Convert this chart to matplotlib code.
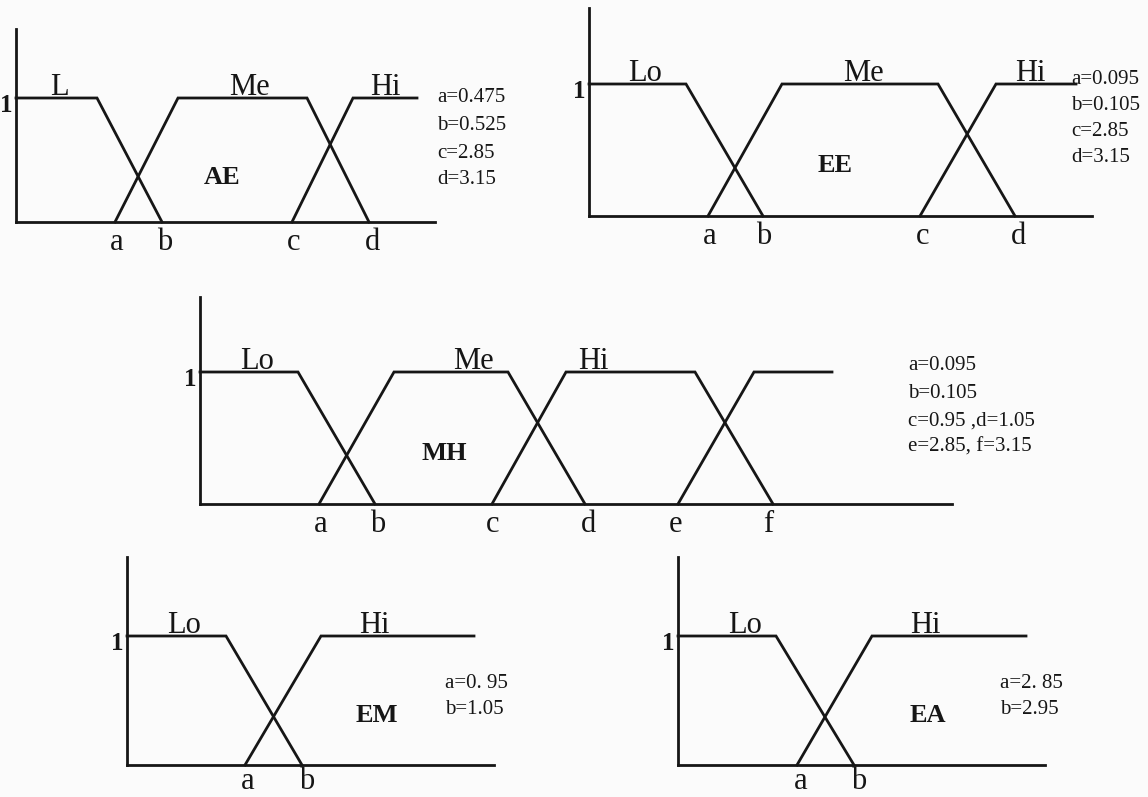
import matplotlib
matplotlib.use("Agg")
import matplotlib.pyplot as plt

plt.rcParams['font.family'] = ['Liberation Serif', 'DejaVu Serif']

# ---------------- data (schematic breakpoint positions, membership grades) ----------------
ae_sets = ['L', 'Me', 'Hi']
ae_x = [[0, 81, 146], [99, 162, 291, 353], [276, 337, 401]]
ae_mu = [[1, 1, 0], [0, 1, 1, 0], [0, 1, 1]]
ae_set_label_x = [43, 233, 369]
ae_ticks = ['a', 'b', 'c', 'd']
ae_tick_x = [101, 149, 278, 356]
ae_params = ['a=0.475', 'b=0.525', 'c=2.85', 'd=3.15']

ee_sets = ['Lo', 'Me', 'Hi']
ee_x = [[0, 97, 174], [119, 193, 349, 426], [331, 407, 487]]
ee_mu = [[1, 1, 0], [0, 1, 1, 0], [0, 1, 1]]
ee_set_label_x = [56, 274, 441]
ee_ticks = ['a', 'b', 'c', 'd']
ee_tick_x = [121, 175, 334, 429]
ee_params = ['a=0.095', 'b=0.105', 'c=2.85', 'd=3.15']

mh_sets = ['Lo', 'Me', 'Hi', '']
mh_x = [[0, 98, 175], [119, 194, 308, 385], [292, 366, 495, 573], [478, 554, 632]]
mh_mu = [[1, 1, 0], [0, 1, 1, 0], [0, 1, 1, 0], [0, 1, 1]]
mh_set_label_x = [57, 273, 393, 0]
mh_ticks = ['a', 'b', 'c', 'd', 'e', 'f']
mh_tick_x = [121, 178, 293, 389, 475, 568]
mh_params = ['a=0.095', 'b=0.105', 'c=0.95 ,d=1.05', 'e=2.85, f=3.15']

em_sets = ['Lo', 'Hi']
em_x = [[0, 99, 175], [118, 194, 347]]
em_mu = [[1, 1, 0], [0, 1, 1]]
em_set_label_x = [57, 247]
em_ticks = ['a', 'b']
em_tick_x = [121, 180]
em_params = ['a=0. 95', 'b=1.05']

ea_sets = ['Lo', 'Hi']
ea_x = [[0, 98, 176], [119, 194, 348]]
ea_mu = [[1, 1, 0], [0, 1, 1]]
ea_set_label_x = [67, 247]
ea_ticks = ['a', 'b']
ea_tick_x = [123, 181]
ea_params = ['a=2. 85', 'b=2.95']

panel_names = ['AE', 'EE', 'MH', 'EM', 'EA']

# ---------------- layout (pixel geometry of each panel) ----------------
W, H, DPI = 1148, 797, 100
layout = {
    'AE': dict(x0=16, yb=222, ytop=29, xr=435, ylev=98, tick_off=28, name_xy=(222, 178), par_x=437, par_y=[98, 126, 153, 180]),
    'EE': dict(x0=589, yb=216, ytop=8, xr=1092, ylev=84, tick_off=28, name_xy=(835, 166), par_x=1071, par_y=[79, 105, 131, 158]),
    'MH': dict(x0=200, yb=504, ytop=297, xr=952, ylev=372, tick_off=28, name_xy=(444, 453), par_x=908, par_y=[366, 393, 421, 447]),
    'EM': dict(x0=127, yb=765, ytop=557, xr=494, ylev=636, tick_off=24, name_xy=(377, 715), par_x=445, par_y=[683, 710]),
    'EA': dict(x0=678, yb=765, ytop=557, xr=1045, ylev=636, tick_off=24, name_xy=(928, 715), par_x=1000, par_y=[683, 710]),
}
data = {
    'AE': (ae_sets, ae_x, ae_mu, ae_set_label_x, ae_ticks, ae_tick_x, ae_params),
    'EE': (ee_sets, ee_x, ee_mu, ee_set_label_x, ee_ticks, ee_tick_x, ee_params),
    'MH': (mh_sets, mh_x, mh_mu, mh_set_label_x, mh_ticks, mh_tick_x, mh_params),
    'EM': (em_sets, em_x, em_mu, em_set_label_x, em_ticks, em_tick_x, em_params),
    'EA': (ea_sets, ea_x, ea_mu, ea_set_label_x, ea_ticks, ea_tick_x, ea_params),
}

INK = '#161616'
LW = 2.0
fig = plt.figure(figsize=(W / DPI, H / DPI), dpi=DPI)
fig.patch.set_facecolor('#fbfbfb')

for name in panel_names:
    L = layout[name]
    sets, xs, mus, slx, ticks, tick_x, params = data[name]
    width_px = L['xr'] - L['x0']
    height_px = L['yb'] - L['ytop']
    unit = L['yb'] - L['ylev']          # pixels per membership unit
    ax = fig.add_axes([L['x0'] / W, 1 - L['yb'] / H, width_px / W, height_px / H])
    ax.set_xlim(0, width_px)
    ax.set_ylim(0, height_px / unit)
    ax.patch.set_alpha(0)
    for s in ['top', 'right']:
        ax.spines[s].set_visible(False)
    for s in ['left', 'bottom']:
        ax.spines[s].set_linewidth(LW)
        ax.spines[s].set_color(INK)
    ax.set_xticks([])
    ax.set_yticks([])

    for x, m in zip(xs, mus):
        ax.plot(x, m, color=INK, lw=LW, solid_joinstyle='miter', clip_on=False)

    px = 1.0 / unit
    for lab, lx in zip(sets, slx):
        if lab:
            ax.text(lx, 1 + 3 * px, lab, ha='center', va='baseline', fontsize=22, color=INK)
    for lab, tx in zip(ticks, tick_x):
        ax.text(tx, -L['tick_off'] * px, lab, ha='center', va='baseline', fontsize=22, color=INK)
    ax.text(-3, 1 + 4 * px, '1', ha='right', va='top', fontsize=18, fontweight='bold', color=INK)

    nx, ny = L['name_xy']
    fig.text(nx / W, 1 - ny / H, name, ha='center', va='center', fontsize=19, fontweight='bold', color=INK)
    for s, py in zip(params, L['par_y']):
        fig.text(L['par_x'] / W, 1 - py / H, s, ha='left', va='center', fontsize=15, color=INK)

fig.savefig('out.png', dpi=DPI, facecolor=fig.get_facecolor())
